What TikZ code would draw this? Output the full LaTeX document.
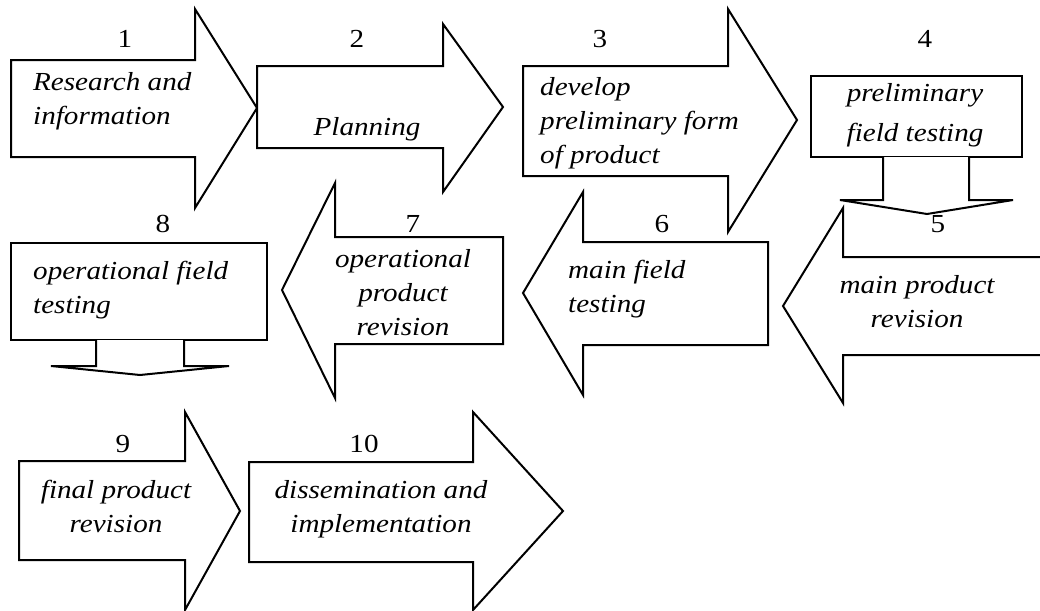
\documentclass[tikz,border=0pt]{standalone}
\usepackage{fontspec}
\setmainfont{Liberation Serif}[FakeStretch=1.12]
\tikzstyle{blk} = [draw=black, line width=2pt, fill=white, line join=miter]
\tikzstyle{num} = [font=\fontsize{26}{34}\selectfont, inner sep=0pt, anchor=base]
\tikzstyle{txt} = [font=\fontsize{26}{34}\selectfont\itshape, inner sep=0pt, anchor=base]

\begin{document}
\begin{tikzpicture}[x=1pt, y=-1pt]
    \useasboundingbox (0,0) rectangle (1040,610);
    % first row
    \draw [blk] (11,60) -- (195,60) -- (195,9) -- (257,108) -- (195,208) -- (195,157) -- (11,157) -- cycle;
    \node (n1) [num] at (125,48) {1};
    \node (t1) [txt, align=left, anchor=base west] at (33,124) {Research and\\information};
    \draw [blk] (257,66) -- (443,66) -- (443,24) -- (503,107) -- (443,192) -- (443,148) -- (257,148) -- cycle;
    \node (n2) [num] at (357,48) {2};
    \node (t2) [txt] at (367,135) {Planning};
    \draw [blk] (523,66) -- (728,66) -- (728,9) -- (797,120) -- (728,232) -- (728,176) -- (523,176) -- cycle;
    \node (n3) [num] at (600,48) {3};
    \node (t3) [txt, align=left, anchor=base west] at (540,163) {develop\\preliminary form\\of product};
    \draw [blk] (811,76) rectangle (1022,157);
    \node (n4) [num] at (925,48) {4};
    \node (t4) [txt, align=center, font=\fontsize{26}{40}\selectfont\itshape] at (915,141) {preliminary\\field testing};
    % second row
    \draw [blk] (1040,257) -- (843,257) -- (843,208) -- (783,306) -- (843,403) -- (843,355) -- (1040,355);
    \node (n5) [num] at (938,232) {5};
    \node (t5) [txt, align=center] at (917,327) {main product\\revision};
    \draw [blk] (883,157) -- (883,200) -- (840,200) -- (927,214) -- (1013,200) -- (969,200) -- (969,157);
    \draw [blk] (768,242) -- (583,242) -- (583,192) -- (523,293) -- (583,395) -- (583,345) -- (768,345) -- cycle;
    \node (n6) [num] at (662,232) {6};
    \node (t6) [txt, align=left, anchor=base west] at (568,312) {main field\\testing};
    \draw [blk] (503,237) -- (335,237) -- (335,183) -- (282,290) -- (335,398) -- (335,344) -- (503,344) -- cycle;
    \node (n7) [num] at (413,232) {7};
    \node (t7) [txt, align=center] at (403,335) {operational\\product\\revision};
    \draw [blk] (11,243) rectangle (267,340);
    \node (n8) [num] at (163,232) {8};
    \node (t8) [txt, align=left, anchor=base west] at (33,313) {operational field\\testing};
    \draw [blk] (96,340) -- (96,366) -- (51,366) -- (140,375) -- (229,366) -- (184,366) -- (184,340);
    % third row
    \draw [blk] (19,461) -- (185,461) -- (185,412) -- (240,511) -- (185,610) -- (185,560) -- (19,560) -- cycle;
    \node (n9) [num] at (123,452) {9};
    \node (t9) [txt, align=center] at (116,532) {final product\\revision};
    \draw [blk] (249,462) -- (473,462) -- (473,412) -- (563,511) -- (473,610) -- (473,562) -- (249,562) -- cycle;
    \node (n10) [num] at (364,452) {10};
    \node (t10) [txt, align=center] at (381,532) {dissemination and\\implementation};
\end{tikzpicture}
\end{document}
